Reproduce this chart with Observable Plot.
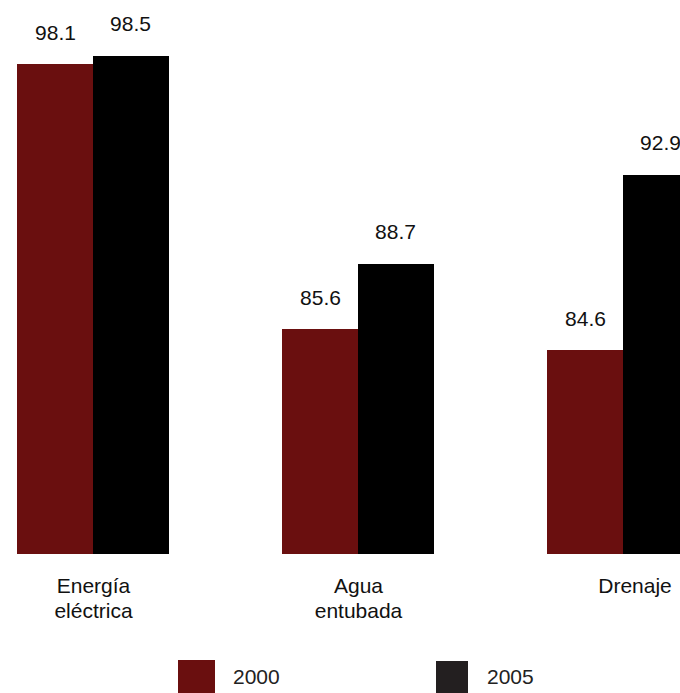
<!DOCTYPE html>
<html>
<head>
<meta charset="utf-8">
<script src="https://cdn.jsdelivr.net/npm/d3@7"></script>
<script src="https://cdn.jsdelivr.net/npm/@observablehq/plot@0.6"></script>
<style>
  html, body { margin: 0; padding: 0; background: #fff; overflow: hidden; }
  #wrap { position: relative; width: 680px; height: 693px; overflow: hidden; font-family: "Liberation Sans", Arial, sans-serif; }
  .sw { position: absolute; }
  .lt { position: absolute; font-size: 21px; line-height: 1; color: #222; }
</style>
</head>
<body>
<div id="wrap"></div>
<script>
const categories = ["Energía eléctrica", "Agua entubada", "Drenaje"];
const tickLabels = ["Energía\neléctrica", "Agua\nentubada", "Drenaje"];
const years = ["2000", "2005"];
const values2000 = [98.1, 85.6, 84.6];
const values2005 = [98.5, 88.7, 92.9];
const colors = ["#6a0f0f", "#000000"];
const legendColors = ["#6a0f0f", "#231f20"];

const rows = [];
categories.forEach((c, i) => {
  rows.push({cat: c, year: years[0], value: values2000[i]});
  rows.push({cat: c, year: years[1], value: values2005[i]});
});
const labels = categories.map((c, i) => ({cat: c, label: tickLabels[i]}));

const font = "Liberation Sans, Arial, sans-serif";

const chart = Plot.plot({
  width: 680,
  height: 645,
  marginTop: 0, marginBottom: 0, marginLeft: 0, marginRight: 0,
  style: {fontFamily: font, background: "#fff", overflow: "visible"},
  x: {type: "band", domain: categories, range: [17, 699], paddingInner: 113 / 265, paddingOuter: 0, round: false, axis: null},
  y: {domain: [75, 100], range: [554, 24], axis: null},
  marks: [
    Plot.barY(rows.filter(d => d.year === years[0]), {x: "cat", y1: 75, y2: "value", fill: colors[0], insetRight: 75.6, shapeRendering: "crispEdges"}),
    Plot.barY(rows.filter(d => d.year === years[1]), {x: "cat", y1: 75, y2: "value", fill: colors[1], insetLeft: 76, shapeRendering: "crispEdges"}),
    Plot.text(rows.filter(d => d.year === years[0]), {x: "cat", y: "value", text: d => d.value.toFixed(1), dx: -38, dy: -25, lineAnchor: "bottom", fontSize: 21, fill: "#111"}),
    Plot.text(rows.filter(d => d.year === years[1]), {x: "cat", y: "value", text: d => d.value.toFixed(1), dx: 37, dy: -25, lineAnchor: "bottom", fontSize: 21, fill: "#111"}),
    Plot.text(labels.filter(d => d.label.includes("\n")), {x: "cat", y: 75, text: "label", lineAnchor: "top", dy: 21, lineHeight: 1.19, fontSize: 21, fill: "#111"}),
    Plot.text(labels.filter(d => !d.label.includes("\n")), {x: "cat", y: 75, text: "label", lineAnchor: "top", dy: 24, dx: 11.5, fontSize: 21, fill: "#111"})
  ]
});

const wrap = document.getElementById("wrap");
wrap.appendChild(chart);

const legendItems = [
  {sw: {left: 178, top: 660, w: 37, h: 34}, text: {left: 233, top: 666}},
  {sw: {left: 436, top: 661, w: 32, h: 33}, text: {left: 487, top: 666}}
];
years.forEach((y, i) => {
  const it = legendItems[i];
  const s = document.createElement("div");
  s.className = "sw";
  s.style.left = it.sw.left + "px"; s.style.top = it.sw.top + "px";
  s.style.width = it.sw.w + "px"; s.style.height = it.sw.h + "px";
  s.style.background = legendColors[i];
  wrap.appendChild(s);
  const t = document.createElement("div");
  t.className = "lt";
  t.style.left = it.text.left + "px"; t.style.top = it.text.top + "px";
  t.textContent = y;
  wrap.appendChild(t);
});
</script>
</body>
</html>
